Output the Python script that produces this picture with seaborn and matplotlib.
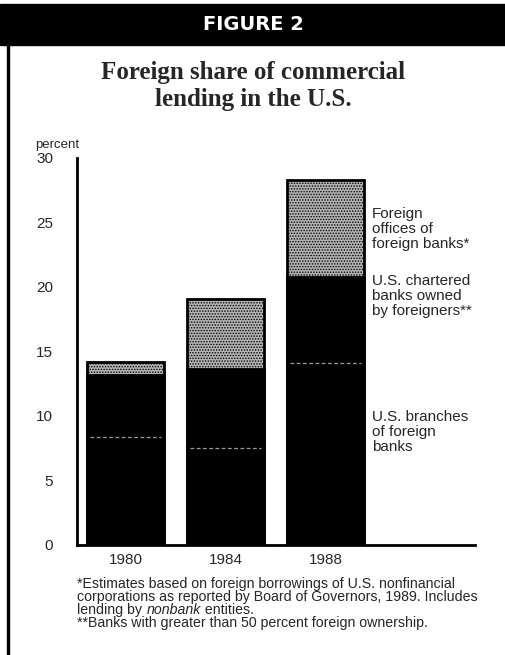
import numpy as np
import pandas as pd
import matplotlib
matplotlib.use("Agg")
import matplotlib.pyplot as plt
import seaborn as sns

# Data (percent of commercial lending)
years = ["1980", "1984", "1988"]
branches = [8.4, 7.5, 14.1]        # U.S. branches of foreign banks
chartered = [4.75, 6.1, 6.7]       # U.S. chartered banks owned by foreigners
offices = [1.05, 5.5, 7.5]         # Foreign offices of foreign banks
yticks = [0, 5, 10, 15, 20, 25, 30]

seg_labels = ["Foreign\noffices of\nforeign banks*",
              "U.S. chartered\nbanks owned\nby foreigners**",
              "U.S. branches\nof foreign\nbanks"]

df = pd.DataFrame({"year": years, "branches": branches,
                   "chartered": chartered, "offices": offices})
df["lvl1"] = df["branches"]
df["lvl2"] = df["branches"] + df["chartered"]
df["lvl3"] = df["lvl2"] + df["offices"]

sns.set_style("white")
plt.rcParams["font.family"] = ["Liberation Sans", "DejaVu Sans"]
plt.rcParams["hatch.color"] = "#6a6a6a"
plt.rcParams["hatch.linewidth"] = 0.7

fig = plt.figure(figsize=(5.06, 6.55), dpi=100)
ax = fig.add_axes([0.152, 0.168, 0.787, 0.591])

# stacked bars, drawn as cumulative layers
sns.barplot(data=df, x="year", y="lvl3", order=years, color="#b4b4b4",
            width=0.77, edgecolor="black", linewidth=2, hatch="......",
            saturation=1, ax=ax)
sns.barplot(data=df, x="year", y="lvl2", order=years, color="black",
            width=0.77, edgecolor="black", linewidth=2, saturation=1, ax=ax)
sns.barplot(data=df, x="year", y="lvl1", order=years, color="black",
            width=0.77, edgecolor="black", linewidth=0, saturation=1, ax=ax)
for p in ax.patches:
    p.set_zorder(2)

# faint dashed divider between branches and chartered banks
for p in ax.patches[6:9]:
    x0 = p.get_x() + 0.03
    x1 = p.get_x() + p.get_width() - 0.03
    y = p.get_height()
    ax.plot([x0, x1], [y, y], color="#9a9a9a", lw=0.9, ls=(0, (3, 2)), zorder=3)

ax.set_xlim(-0.485, 3.49)
ax.set_ylim(0, 30)
ax.set_yticks(yticks)
ax.set_yticklabels([str(t) for t in yticks], fontsize=11)
ax.tick_params(axis="y", direction="in", length=6, width=2, pad=17)
ax.tick_params(axis="x", length=0, pad=6, labelsize=11)
ax.set_xlabel("")
ax.set_ylabel("")
sns.despine(ax=ax, top=True, right=True)
ax.spines["left"].set_linewidth(2)
ax.spines["bottom"].set_linewidth(2)
ax.spines["left"].set_color("black")
ax.spines["bottom"].set_color("black")

# segment labels on the right
label_y = [24.5, 19.3, 8.75]
for txt, yy in zip(seg_labels, label_y):
    ax.text(2.46, yy, txt, fontsize=11, va="center", ha="left",
            linespacing=1.1)

# header
fig.patches.append(plt.Rectangle((0, 0.931), 1, 0.063, transform=fig.transFigure,
                                 color="black", zorder=0))
fig.patches.append(plt.Rectangle((0.013, 0), 0.005, 0.935, transform=fig.transFigure,
                                 color="black", zorder=0))
fig.text(0.5, 0.962, "FIGURE 2", color="white", fontsize=14, fontweight="bold",
         family="DejaVu Sans", ha="center", va="center")
fig.text(0.5, 0.869, "Foreign share of commercial\nlending in the U.S.",
         fontsize=18, fontweight="bold", family="Liberation Serif",
         ha="center", va="center", linespacing=1.25)
fig.text(0.069, 0.779, "percent", fontsize=9.5, ha="left", va="center")

# footnotes
fs = 10.2
fig.text(0.153, 0.109, "*Estimates based on foreign borrowings of U.S. nonfinancial",
         fontsize=fs, ha="left", va="center")
fig.text(0.153, 0.089, "corporations as reported by Board of Governors, 1989. Includes",
         fontsize=fs, ha="left", va="center")
t1 = fig.text(0.153, 0.069, "lending by ", fontsize=fs, ha="left", va="center")
t2 = ax.annotate("nonbank", xy=(1, 0.5), xycoords=t1, fontsize=fs,
                 style="italic", ha="left", va="center")
ax.annotate(" entities.", xy=(1, 0.5), xycoords=t2, fontsize=fs,
            ha="left", va="center")
fig.text(0.153, 0.049, "**Banks with greater than 50 percent foreign ownership.",
         fontsize=fs, ha="left", va="center")

fig.savefig("out.png", dpi=100)
